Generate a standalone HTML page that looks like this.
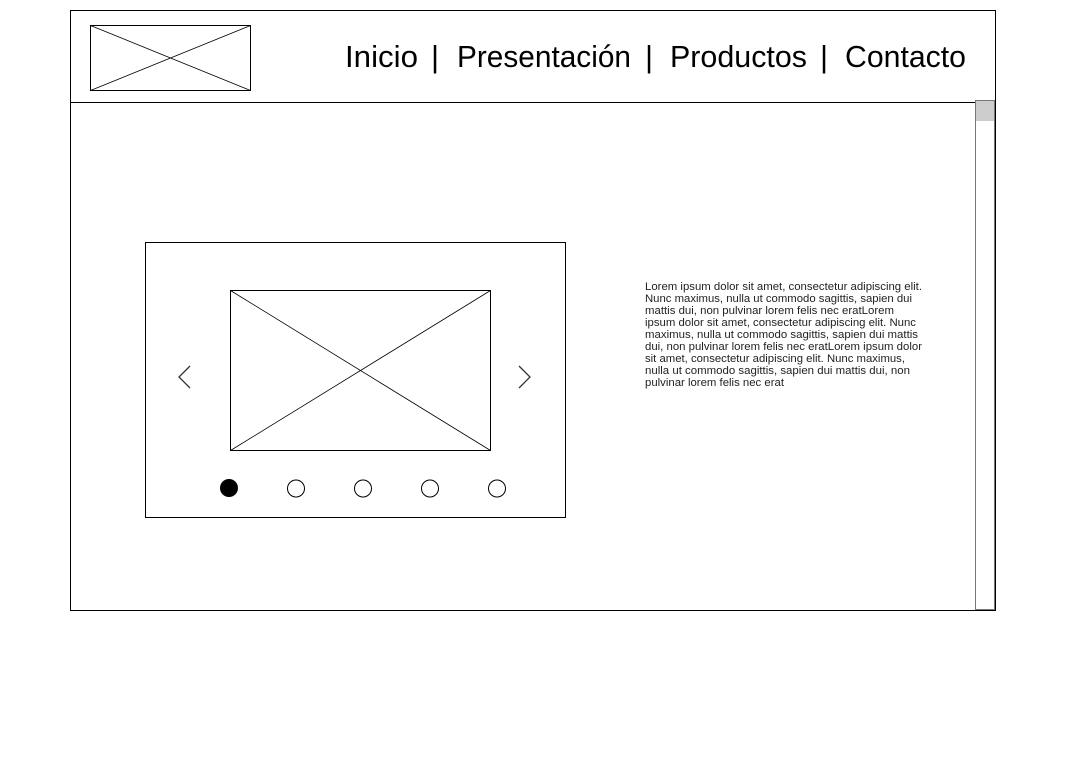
<!DOCTYPE html>
<html><head><meta charset="utf-8"><style>
html,body{margin:0;padding:0;background:#fff;width:1086px;height:761px;overflow:hidden}
svg{display:block;font-family:"Liberation Sans","DejaVu Sans",sans-serif}
</style></head><body>
<svg width="1086" height="761" viewBox="0 0 1086 761">
<rect x="70.5" y="10.5" width="925" height="600" fill="#fff" stroke="#000"/>
<line x1="70" y1="102.5" x2="976" y2="102.5" stroke="#000"/>
<g>
<rect x="90.5" y="25.5" width="160" height="65" fill="none" stroke="#000"/>
<line x1="90.5" y1="25.5" x2="250.5" y2="90.5" stroke="#000" stroke-width="0.8"/>
<line x1="250.5" y1="25.5" x2="90.5" y2="90.5" stroke="#000" stroke-width="0.8"/>
</g>
<g font-size="31" fill="#000">
<text x="345" y="67" textLength="73" lengthAdjust="spacingAndGlyphs">Inicio</text>
<text x="431" y="67">|</text>
<text x="457" y="67" textLength="174" lengthAdjust="spacingAndGlyphs">Presentación</text>
<text x="645" y="67">|</text>
<text x="670" y="67" textLength="137" lengthAdjust="spacingAndGlyphs">Productos</text>
<text x="820" y="67">|</text>
<text x="845" y="67" textLength="121" lengthAdjust="spacingAndGlyphs">Contacto</text>
</g>
<g>
<rect x="975.5" y="100.5" width="19" height="509" fill="#fff" stroke="#777"/>
<rect x="976" y="101" width="18" height="20" fill="#ccc"/>
</g>
<g>
<rect x="145.5" y="242.5" width="420" height="275" fill="#fff" stroke="#000"/>
<rect x="230.5" y="290.5" width="260" height="160" fill="none" stroke="#000"/>
<line x1="230.5" y1="290.5" x2="490.5" y2="450.5" stroke="#000" stroke-width="0.8"/>
<line x1="490.5" y1="290.5" x2="230.5" y2="450.5" stroke="#000" stroke-width="0.8"/>
<polyline points="190,366 179,377 190,388" fill="none" stroke="#333" stroke-width="1.3"/>
<polyline points="519,366 530,377 519,388" fill="none" stroke="#333" stroke-width="1.3"/>
<circle cx="229" cy="488" r="9" fill="#000"/>
<circle cx="296" cy="488.5" r="8.5" fill="#fff" stroke="#000"/>
<circle cx="363" cy="488.5" r="8.5" fill="#fff" stroke="#000"/>
<circle cx="430" cy="488.5" r="8.5" fill="#fff" stroke="#000"/>
<circle cx="497" cy="488.5" r="8.5" fill="#fff" stroke="#000"/>
</g>
<g font-size="11" fill="#222">
<text x="645" y="290" textLength="277" lengthAdjust="spacingAndGlyphs">Lorem ipsum dolor sit amet, consectetur adipiscing elit.</text>
<text x="645" y="302" textLength="267" lengthAdjust="spacingAndGlyphs">Nunc maximus, nulla ut commodo sagittis, sapien dui</text>
<text x="645" y="314" textLength="249" lengthAdjust="spacingAndGlyphs">mattis dui, non pulvinar lorem felis nec eratLorem</text>
<text x="645" y="326" textLength="271" lengthAdjust="spacingAndGlyphs">ipsum dolor sit amet, consectetur adipiscing elit. Nunc</text>
<text x="645" y="338" textLength="273" lengthAdjust="spacingAndGlyphs">maximus, nulla ut commodo sagittis, sapien dui mattis</text>
<text x="645" y="350" textLength="277" lengthAdjust="spacingAndGlyphs">dui, non pulvinar lorem felis nec eratLorem ipsum dolor</text>
<text x="645" y="362" textLength="260" lengthAdjust="spacingAndGlyphs">sit amet, consectetur adipiscing elit. Nunc maximus,</text>
<text x="645" y="374" textLength="265" lengthAdjust="spacingAndGlyphs">nulla ut commodo sagittis, sapien dui mattis dui, non</text>
<text x="645" y="386" textLength="139" lengthAdjust="spacingAndGlyphs">pulvinar lorem felis nec erat</text>
</g>
</svg>
</body></html>
